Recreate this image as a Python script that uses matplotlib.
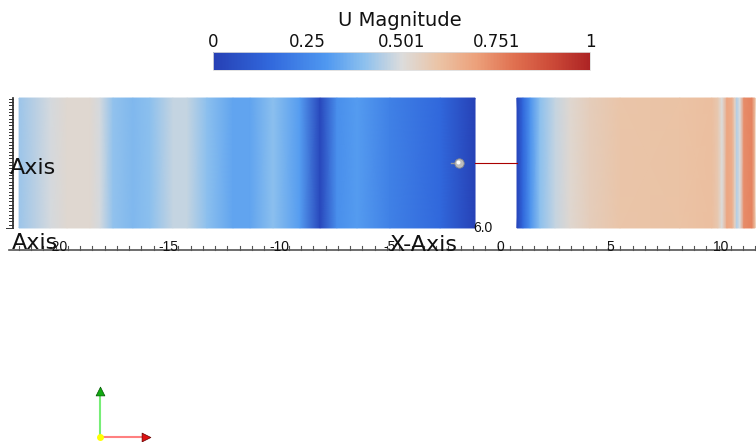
import numpy as np
import matplotlib as mpl
mpl.use('Agg')
import matplotlib.pyplot as plt
from matplotlib.colors import Normalize, LinearSegmentedColormap

plt.rcParams['font.family'] = ['DejaVu Sans']

left_x = [-21.76, -20.36, -19.59, -18.55, -18.10, -17.51, -16.61, -15.84, -14.80,
          -14.16, -13.26, -12.08, -11.31, -10.27, -9.05, -8.14, -7.38, -6.47,
          -4.98, -2.71, -1.13]
left_u = [0.42, 0.49, 0.52, 0.52, 0.49, 0.41, 0.38, 0.40, 0.47,
          0.47, 0.40, 0.33, 0.33, 0.40, 0.31, 0.03, 0.27, 0.31,
          0.23, 0.15, 0.01]
right_x = [0.77, 1.04, 1.36, 1.81, 2.49, 3.17, 4.07, 5.43, 8.14, 9.59, 9.86,
           10.05, 10.27, 10.50, 10.63, 10.72, 10.86, 11.04, 11.40, 11.54]
right_u = [0.02, 0.15, 0.28, 0.40, 0.47, 0.52, 0.56, 0.59, 0.60, 0.61, 0.58,
           0.50, 0.68, 0.66, 0.55, 0.45, 0.50, 0.74, 0.76, 0.60]
half_height = 2.94

x_ticks = [-20, -15, -10, -5, 0, 5, 10]
cbar_ticks = [0, 0.25, 0.501, 0.751, 1]
cbar_labels = ['0', '0.25', '0.501', '0.751', '1']

# colour map as shown in the legend bar
cmap_pos = [0.0, 0.15, 0.3, 0.4, 0.5, 0.6, 0.7, 0.8, 0.9, 1.0]
cmap_col = ['#2640b5', '#3168dc', '#4f98f0', '#8cc0ee', '#dcdcdc',
            '#ebc3a5', '#eca07a', '#e07050', '#cc4a38', '#ad2424']
cmap = LinearSegmentedColormap.from_list('u_mag', list(zip(cmap_pos, cmap_col)))
norm = Normalize(0, 1)

fig = plt.figure(figsize=(7.56, 4.42), dpi=100)
ax = fig.add_axes([0, 0, 1, 1])
ax.set_xlim(-500 / 22.1, 256 / 22.1)
ax.set_ylim(-279 / 22.1, 163 / 22.1)
ax.axis('off')

for xs, us in [(left_x, left_u), (right_x, right_u)]:
    X = np.array([xs, xs])
    Y = np.array([[-half_height] * len(xs), [half_height] * len(xs)])
    C = np.array([us, us])
    ax.pcolormesh(X, Y, C, cmap=cmap, norm=norm, shading='gouraud')

# probe line and sphere
ax.plot([left_x[-1], right_x[0]], [0, 0], color='#aa0000', lw=0.8)
ax.plot([-2.2, -2.05], [0, 0], color='#999999', lw=1)
ax.scatter([-1.86], [0], s=45, color='#bdbdbd', edgecolor='#8a8a8a', lw=0.6, zorder=5)
ax.scatter([-1.9], [0.05], s=8, color='white', lw=0, zorder=6)

# x data axis
y_axis = -3.94
ax.plot([-22.2, 11.6], [y_axis, y_axis], color='#555555', lw=1.2)
minor = np.arange(-22 + 2 / 9, 11.6, 5 / 9)
for m in minor:
    ax.plot([m, m], [y_axis, y_axis + 0.2], color='#555555', lw=0.8)
for t in x_ticks:
    ax.text(t, y_axis + 0.15, str(t), ha='center', va='center', fontsize=10,
            color='#111111', family='Liberation Sans')

# left data axis
x_left = -22.04
ax.plot([x_left, x_left], [-half_height, half_height], color='#222222', lw=1.2)
for yy in np.arange(-half_height, half_height, 0.15):
    ln = 0.3 if abs((yy + half_height) % 1.5) < 0.1 else 0.18
    ax.plot([x_left - ln, x_left], [yy, yy], color='#333333', lw=0.7)

ax.text(-22.2, -0.22, 'Axis', ha='left', va='center', fontsize=16, color='#111111')
ax.text(-22.1, -3.62, 'Axis', ha='left', va='center', fontsize=16, color='#111111')
ax.text(-5.0, -3.7, 'X-Axis', ha='left', va='center', fontsize=16, color='#111111')
ax.text(-1.2, -2.94, '6.0', ha='left', va='center', fontsize=10, color='#111111',
        family='Liberation Sans')

# orientation axes
ox, oy = -18.10, -12.40
ax.plot([ox, ox], [oy, oy + 2.0], color='#77ee77', lw=1.5)
ax.plot([ox, ox + 2.0], [oy, oy], color='#ff8080', lw=1.5)
ax.scatter([ox], [oy + 2.1], marker='^', s=40, color='#11aa11', edgecolor='#005500', lw=0.5, zorder=5)
ax.scatter([ox + 2.1], [oy], marker='>', s=40, color='#dd1111', edgecolor='#660000', lw=0.5, zorder=5)
ax.scatter([ox], [oy], s=25, color='#ffff00', lw=0, zorder=6)

# colour legend
cax = fig.add_axes([213 / 756, (442 - 70) / 442, 377 / 756, 18 / 442])
cb = fig.colorbar(mpl.cm.ScalarMappable(norm=norm, cmap=cmap), cax=cax,
                  orientation='horizontal', ticks=cbar_ticks)
cb.outline.set_edgecolor('#dddddd')
cb.outline.set_linewidth(0.6)
cax.xaxis.set_ticks_position('top')
cax.set_xticklabels(cbar_labels, fontsize=12, color='#111111')
cax.tick_params(axis='x', length=0, pad=1)
fig.text(400 / 756, 1 - 20 / 442, 'U Magnitude', ha='center', va='center',
         fontsize=14, color='#111111')

fig.savefig('out.png', dpi=100)
